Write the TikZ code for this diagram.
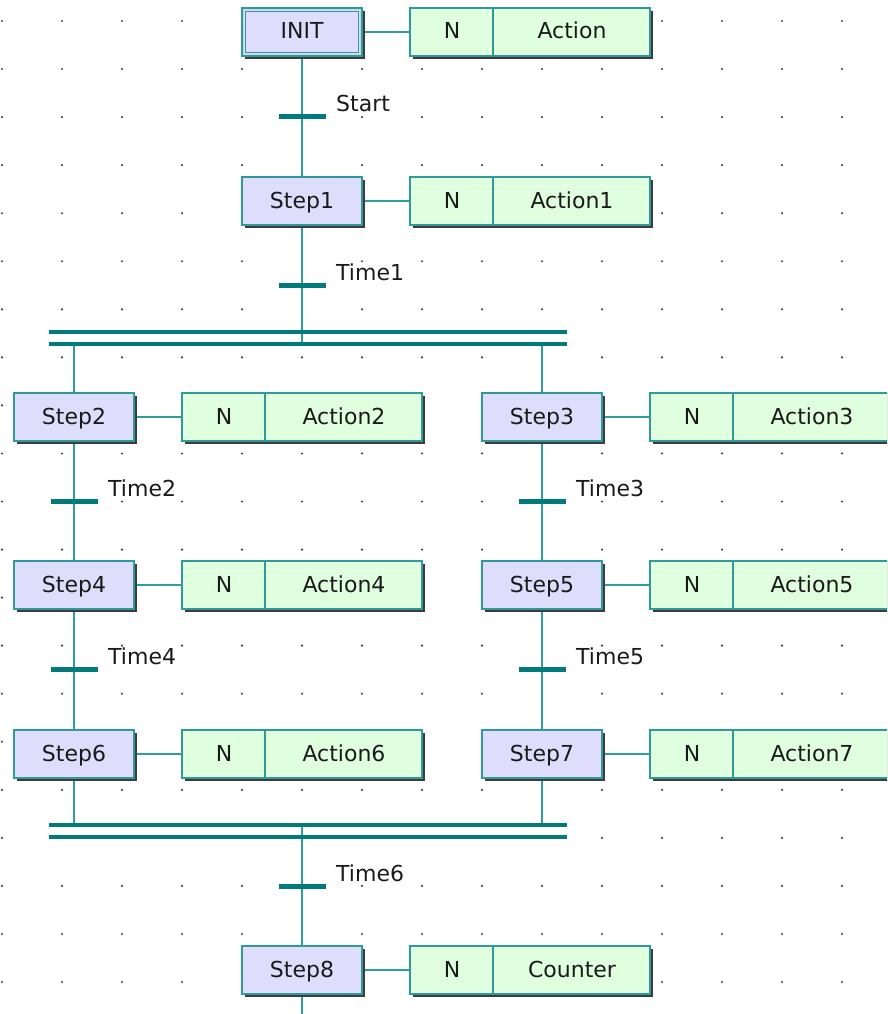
\documentclass[tikz,border=0pt]{standalone}
\usepackage{fontspec}
\newfontfamily\lblfont{DejaVu Sans}
\usetikzlibrary{shadows,backgrounds}
\definecolor{boxc}{HTML}{2E9A9A}
\definecolor{linec}{HTML}{2E9E9E}
\definecolor{barc}{HTML}{007A7A}
\definecolor{stepfill}{HTML}{DEDEFC}
\definecolor{actfill}{HTML}{DFFFDF}
\definecolor{shadowc}{HTML}{3C3C3C}
\definecolor{dotc}{HTML}{404040}
\definecolor{txtc}{HTML}{1A1A1A}
\definecolor{gapc}{HTML}{C8D4EC}
\newcommand\lbl{\lblfont\fontsize{22}{26}\selectfont}
\tikzset{
  boxbase/.style={draw=boxc, line width=1.6pt, inner sep=0pt, minimum height=48pt,
    drop shadow={shadow xshift=3pt, shadow yshift=-3pt, fill=shadowc, opacity=1}},
  stepbox/.style={boxbase, fill=stepfill, minimum width=120pt, font=\lbl, text=txtc,
    text height=16pt, text depth=2pt},
  actbox/.style={boxbase, fill=actfill, minimum width=240pt},
  boxtext/.style={inner sep=0pt, font=\lbl, text=txtc, text height=16pt, text depth=2pt},
  boxline/.style={draw=boxc, line width=1.6pt},
  link/.style={draw=linec, line width=1.8pt},
  tbar/.style={fill=barc, minimum width=47pt, minimum height=5pt, inner sep=0pt},
  sbar/.style={fill=barc, minimum width=518pt, minimum height=4pt, inner sep=0pt},
  tlabel/.style={anchor=base west, inner sep=0pt, font=\lbl, text=txtc},
}
\newcommand\mkpair[6]{%
  \node[stepbox] (#1) at (#3,#4) {#5};
  \node[actbox] (#2) at (#3+228,#4) {};
  \node[boxtext] (#2n) at (#3+150,#4) {N};
  \node[boxtext] (#2t) at (#3+270,#4) {#6};
  \draw[boxline] ([xshift=84pt]#2.north west) -- ([xshift=84pt]#2.south west);
  \begin{scope}[on background layer]
    \draw[link] (#1) -- (#2);
  \end{scope}
}
\begin{document}
\begin{tikzpicture}[x=1pt,y=-1pt]
\useasboundingbox (0,0) rectangle (887,1014);
\clip (0,0) rectangle (887,1014);
% grid
\begin{scope}[on background layer]
\foreach \i in {0,...,14}{\foreach \j in {0,...,20}{\fill[dotc] (2+60*\i,21+48.05*\j) circle (1.2pt);}}
\end{scope}
% steps and actions
\mkpair{init}{a0}{302}{32}{INIT}{Action}
\draw[gapc, line width=1.6pt] ([shift={(2.4pt,2.4pt)}]init.south west) rectangle ([shift={(-2.4pt,-2.4pt)}]init.north east);
\draw[boxline] ([shift={(4.2pt,4.2pt)}]init.south west) rectangle ([shift={(-4.2pt,-4.2pt)}]init.north east);
\mkpair{s1}{a1}{302}{201}{Step1}{Action1}
\mkpair{s2}{a2}{74}{417}{Step2}{Action2}
\mkpair{s3}{a3}{542}{417}{Step3}{Action3}
\mkpair{s4}{a4}{74}{585}{Step4}{Action4}
\mkpair{s5}{a5}{542}{585}{Step5}{Action5}
\mkpair{s6}{a6}{74}{754}{Step6}{Action6}
\mkpair{s7}{a7}{542}{754}{Step7}{Action7}
\mkpair{s8}{a8}{302}{970}{Step8}{Counter}
% bars
\node[tbar] (t0) at (302,117) {};
\node[tbar] (t1) at (302,285) {};
\node[tbar] (t2) at (74,501) {};
\node[tbar] (t3) at (542,501) {};
\node[tbar] (t4) at (74,669) {};
\node[tbar] (t5) at (542,669) {};
\node[tbar] (t6) at (302,886) {};
\node[sbar] (dA) at (308,332) {};
\node[sbar] (dB) at (308,344) {};
\node[sbar] (cA) at (308,825) {};
\node[sbar] (cB) at (308,837) {};
% labels
\node[tlabel] (l0) at (336,112) {Start};
\node[tlabel] (l1) at (336,280) {Time1};
\node[tlabel] (l2) at (108,496) {Time2};
\node[tlabel] (l3) at (576,496) {Time3};
\node[tlabel] (l4) at (108,664) {Time4};
\node[tlabel] (l5) at (576,664) {Time5};
\node[tlabel] (l6) at (336,881) {Time6};
\coordinate (bot) at (302,1020);
% links
\begin{scope}[on background layer]
\draw[link] (init) -- (s1);
\draw[link] (s1) -- (s1 |- dB);
\draw[link] (s2 |- dB) -- (s2);
\draw[link] (s3 |- dB) -- (s3);
\draw[link] (s2) -- (s4);
\draw[link] (s4) -- (s6);
\draw[link] (s3) -- (s5);
\draw[link] (s5) -- (s7);
\draw[link] (s6) -- (s6 |- cA);
\draw[link] (s7) -- (s7 |- cA);
\draw[link] (s8 |- cA) -- (s8);
\draw[link] (s8) -- (bot);
\end{scope}
\end{tikzpicture}
\end{document}
